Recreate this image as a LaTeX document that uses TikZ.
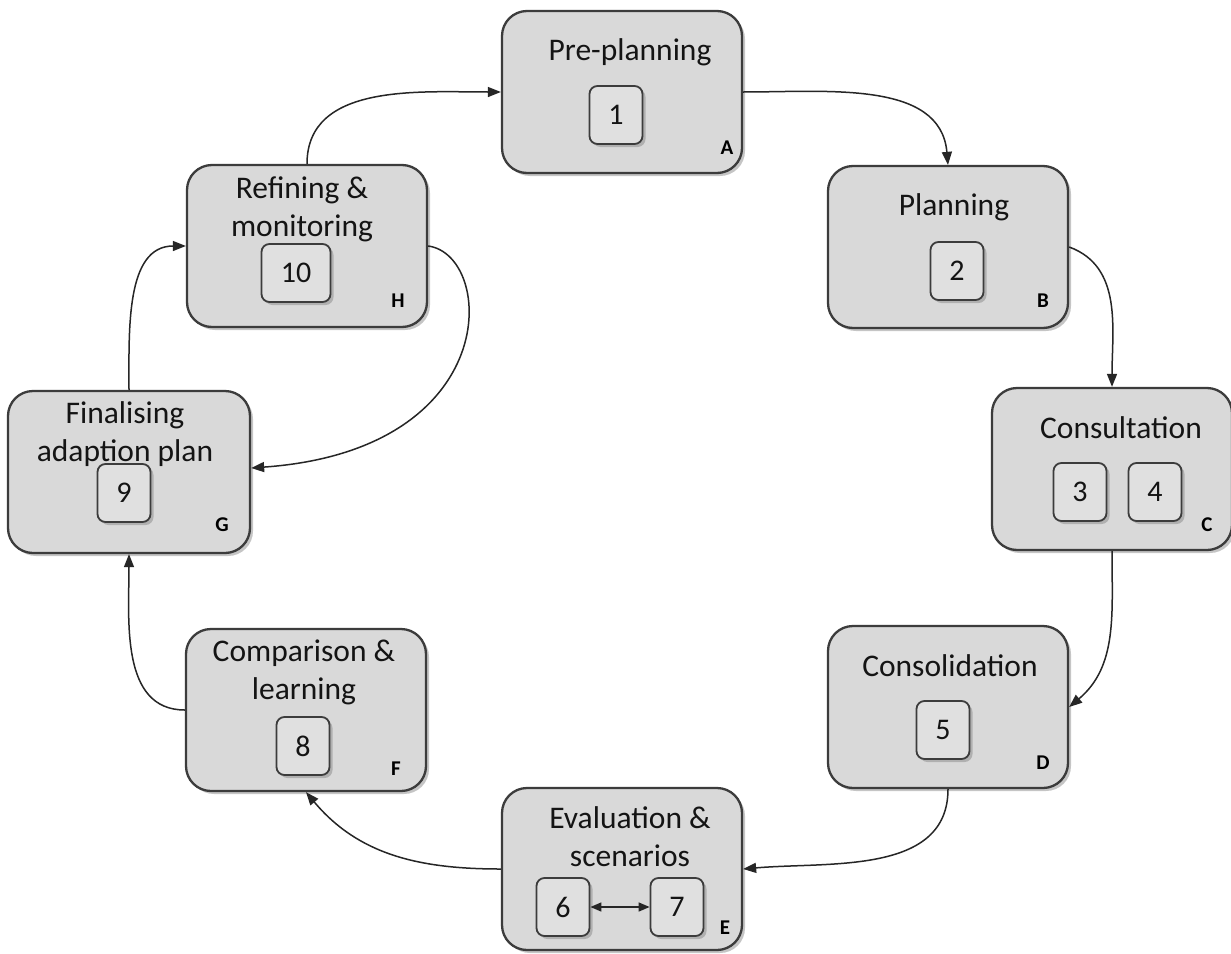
\documentclass[tikz,border=0pt]{standalone}
\usepackage{fontspec}
\setmainfont{Carlito}
\usetikzlibrary{shadows,arrows.meta}
\definecolor{boxfill}{RGB}{217,217,217}
\definecolor{innerfill}{RGB}{224,224,224}
\definecolor{edgegray}{RGB}{60,60,60}
\definecolor{txt}{RGB}{20,20,20}
\tikzset{
  stage/.style={draw=edgegray, line width=2.3pt, fill=boxfill, rounded corners=25pt,
    minimum width=240pt, minimum height=162pt, inner sep=0pt,
    drop shadow={opacity=0.45, shadow xshift=3pt, shadow yshift=-3pt}},
  numbox/.style={draw=edgegray, line width=1.8pt, fill=innerfill, rounded corners=8pt,
    minimum width=53pt, minimum height=58pt, inner sep=0pt, text=txt,
    font=\fontsize{30}{34}\selectfont,
    drop shadow={opacity=0.45, shadow xshift=3pt, shadow yshift=-3pt}},
  title/.style={text=txt, font=\fontsize{31.5}{38}\selectfont, align=center, inner sep=0pt},
  corner/.style={text=black, font=\fontsize{21}{24}\selectfont\bfseries, inner sep=0pt},
  flow/.style={draw=black!85, line width=1.5pt, -{Triangle[length=13pt,width=10pt]}}
}
\begin{document}
\begin{tikzpicture}[x=1pt,y=-1pt]
\useasboundingbox (0,0) rectangle (1231,953);
\fill[white] (0,0) rectangle (1231,953);
% stages
\node[stage] (A) at (622,92) {};
\node[stage] (B) at (948,247) {};
\node[stage] (C) at (1112,469) {};
\node[stage] (D) at (948,707) {};
\node[stage] (E) at (622,869) {};
\node[stage] (F) at (306,710) {};
\node[stage, minimum width=242pt] (G) at (129,472) {};
\node[stage] (H) at (307,246) {};
% titles
\node[title] (tA) at (630,52) {Pre-planning};
\node[title] (tB) at (954,207) {Planning};
\node[title] (tC) at (1121,428) {Consultation};
\node[title] (tD) at (950,666) {Consolidation};
\node[title] (tE) at (630,837) {Evaluation \&\\scenarios};
\node[title] (tF) at (304,672) {Comparison \&\\learning};
\node[title] (tG) at (125,434) {Finalising\\adaption plan};
\node[title] (tH) at (302,209) {Refining \&\\monitoring};
% number boxes
\node[numbox] (n1) at (616,115) {1};
\node[numbox] (n2) at (957,271) {2};
\node[numbox] (n3) at (1080,492) {3};
\node[numbox] (n4) at (1155,492) {4};
\node[numbox] (n5) at (943,730) {5};
\node[numbox] (n6) at (563,907) {6};
\node[numbox] (n7) at (677,907) {7};
\node[numbox] (n8) at (303,746) {8};
\node[numbox] (n9) at (124,493) {9};
\node[numbox, minimum width=69pt] (n10) at (296,273) {10};
% corner letters
\node[corner] (lA) at (727,148) {A};
\node[corner] (lB) at (1043,301) {B};
\node[corner] (lC) at (1207,525) {C};
\node[corner] (lD) at (1043,763) {D};
\node[corner] (lE) at (725,928) {E};
\node[corner] (lF) at (396,769) {F};
\node[corner] (lG) at (222,525) {G};
\node[corner] (lH) at (398,301) {H};
% connectors
\draw[flow] (A.east) to[out=0, in=95] (B.north);
\draw[flow] (B.east) to[out=-20, in=90] (C.north);
\draw[flow] (C.south) to[out=-90, in=40] (D.east);
\draw[flow] (D.south) to[out=-90, in=5] (E.east);
\draw[flow] (E.west) to[out=180, in=-50] (F.south);
\draw[flow] (F.west) to[out=180, in=-90] (G.south);
\draw[flow] (G.north) to[out=90, in=180] (H.west);
\draw[flow] (H.north) to[out=90, in=180] (A.west);
\draw[flow] (H.east) .. controls (495,255) and (505,450) .. ([yshift=4pt]G.east);
\draw[draw=black!85, line width=1.5pt, {Triangle[length=11pt,width=9pt]}-{Triangle[length=11pt,width=9pt]}] (n6.east) -- (n7.west);
\end{tikzpicture}
\end{document}
